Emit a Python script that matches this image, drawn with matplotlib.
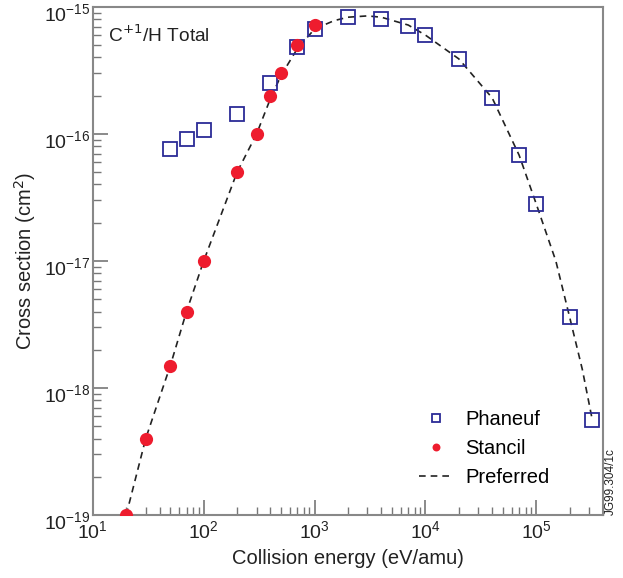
import numpy as np
import matplotlib
matplotlib.use("Agg")
import matplotlib.pyplot as plt
from matplotlib.ticker import LogLocator, NullFormatter
from matplotlib.transforms import ScaledTranslation

plt.rcParams["font.family"] = ["Liberation Sans", "DejaVu Sans"]

# ---------------- datos ----------------
# Phaneuf (cuadrados)
phaneuf_e = [50, 70, 100, 200, 400, 700, 1000, 2000, 4000, 7000, 1e4,
             2e4, 4e4, 7e4, 1e5, 2e5, 3.2e5]
phaneuf_s = [7.6e-17, 9.1e-17, 1.07e-16, 1.44e-16, 2.5e-16, 4.8e-16, 6.7e-16,
             8.3e-16, 8.05e-16, 7.1e-16, 6.0e-16, 3.9e-16, 1.92e-16, 6.8e-17,
             2.8e-17, 3.6e-18, 5.6e-19]

# Stancil (circulos)
stancil_e = [20, 30, 50, 70, 100, 200, 300, 400, 500, 700, 1000]
stancil_s = [1.0e-19, 4.0e-19, 1.5e-18, 4.0e-18, 1.0e-17, 5.0e-17, 1.0e-16,
             2.0e-16, 3.0e-16, 5.0e-16, 7.2e-16]

# Preferred (curva punteada)
pref_e = [20, 30, 50, 70, 100, 200, 300, 400, 500, 700, 1000, 1500, 2000,
          3000, 4000, 7000, 1e4, 2e4, 4e4, 7e4, 1e5, 1.5e5, 2e5, 2.6e5, 3.2e5]
pref_s = [1.0e-19, 4.0e-19, 1.5e-18, 4.0e-18, 1.0e-17, 5.0e-17, 1.0e-16,
          1.9e-16, 2.9e-16, 4.7e-16, 6.7e-16, 7.8e-16, 8.3e-16, 8.5e-16,
          8.3e-16, 7.2e-16, 6.0e-16, 3.9e-16, 1.92e-16, 6.8e-17, 2.8e-17,
          1.0e-17, 3.6e-18, 1.4e-18, 5.6e-19]

# ---------------- grafico ----------------
fig = plt.figure(figsize=(6.23, 5.78), dpi=100)
ax = fig.add_axes([0.149, 0.109, 0.819, 0.879])

ax.plot(pref_e, pref_s, ls=(0, (4, 3)), color="#222222", lw=1.2, label="Preferred", zorder=1)
ax.plot(stancil_e, stancil_s, "o", ms=9.5, color="#ee1c2e", mec="none", label="Stancil", zorder=3)
ax.plot(phaneuf_e, phaneuf_s, "s", ms=10, mfc="none", mec="#2b2b96", mew=1.3, label="Phaneuf", zorder=2)

ax.set_xscale("log")
ax.set_yscale("log")
ax.set_xlim(10, 4e5)
ax.set_ylim(1e-19, 1e-15)

ax.xaxis.set_minor_locator(LogLocator(base=10, subs=np.arange(2, 10)))
ax.yaxis.set_minor_locator(LogLocator(base=10, subs=np.arange(2, 10)))
ax.xaxis.set_minor_formatter(NullFormatter())
ax.yaxis.set_minor_formatter(NullFormatter())
ax.tick_params(which="both", direction="in", top=False, right=False,
               color="#777777", labelsize=14, labelcolor="#222222")
ax.tick_params(which="major", length=11, width=1.2)
ax.tick_params(which="minor", length=6, width=1)
ax.tick_params(axis="x", pad=4)
ax.tick_params(axis="y", pad=2)
for s in ax.spines.values():
    s.set_color("#888888")
    s.set_linewidth(1.5)

ax.set_xlabel("Collision energy (eV/amu)", fontsize=14.5, color="#222222", labelpad=5)
ax.set_ylabel("Cross section (cm$^2$)", fontsize=14.5, color="#222222", labelpad=4)

ax.text(0.03, 0.965, "C$^{+1}$/H Total", transform=ax.transAxes,
        fontsize=13.8, va="top", ha="left", color="#222222")

# handles en el orden de la leyenda
h, l = ax.get_legend_handles_labels()
orden = [2, 1, 0]
ax.legend([h[i] for i in orden], [l[i] for i in orden], loc="lower right",
          bbox_to_anchor=(0.93, 0.02), frameon=False, fontsize=14.5,
          markerscale=0.6, handlelength=1.7, handletextpad=0.6, labelspacing=0.5)

fig.text(0.981, 0.109, "JG99.304/1c", rotation=90, fontsize=8.5,
         ha="center", va="bottom", color="#222222")

# bajar un poco las etiquetas del eje y (el "10" queda centrado en la marca)
fig.canvas.draw()
bajar = ScaledTranslation(0, -4 / 72, fig.dpi_scale_trans)
for t in ax.yaxis.get_major_ticks():
    t.label1.set_transform(t.label1.get_transform() + bajar)

fig.savefig("out.png", dpi=100)
